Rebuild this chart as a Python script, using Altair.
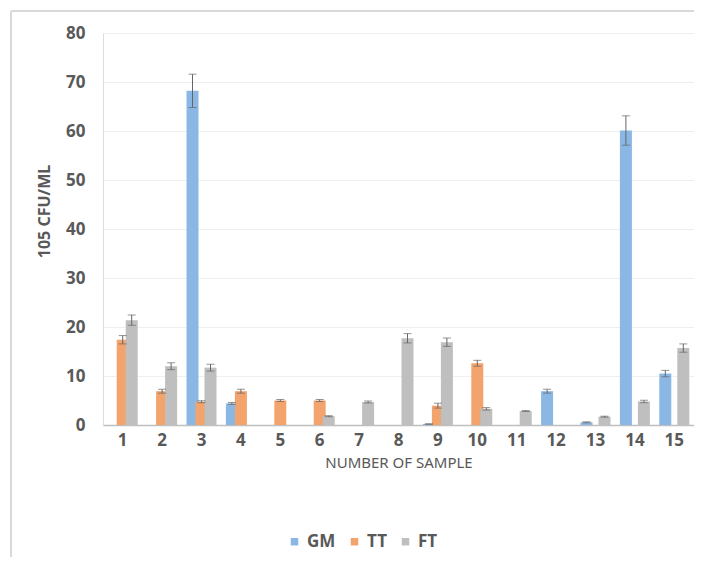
import altair as alt
import pandas as pd

samples = list(range(1, 16))
series = ["GM", "TT", "FT"]
gm = [None, None, 68.2, 4.4, None, None, None, None, 0.2, None, None, 6.9, 0.55, 60.1, 10.5]
gm_err = [None, None, 3.4, 0.2, None, None, None, None, 0.05, None, None, 0.4, 0.1, 3.0, 0.65]
tt = [17.4, 6.9, 4.75, 6.9, 5.0, 5.0, None, None, 3.95, 12.6, None, None, None, None, None]
tt_err = [0.85, 0.4, 0.2, 0.4, 0.2, 0.2, None, None, 0.5, 0.6, None, None, None, None, None]
ft = [21.4, 12.0, 11.7, None, None, 1.8, 4.7, 17.7, 16.9, 3.3, 2.85, None, 1.7, 4.8, 15.7]
ft_err = [1.05, 0.7, 0.7, None, None, 0.1, 0.2, 0.95, 0.85, 0.25, 0.1, None, 0.1, 0.25, 0.85]
colors = ["#8AB7E3", "#F2A46C", "#BFBFBF"]

rows = []
for name, vals, errs in [("GM", gm, gm_err), ("TT", tt, tt_err), ("FT", ft, ft_err)]:
    for s, v, e in zip(samples, vals, errs):
        if v is not None:
            rows.append({"sample": s, "series": name, "value": v,
                         "lo": v - (e or 0), "hi": v + (e or 0)})
df = pd.DataFrame(rows)

FONT = "Noto Sans"
GREY = "#595959"

x = alt.X("sample:O", scale=alt.Scale(domain=samples, paddingInner=0, paddingOuter=0),
          axis=alt.Axis(title="NUMBER OF SAMPLE", labelAngle=0, ticks=False,
                        domainColor="#BFBFBF", domainWidth=1.5,
                        labelFont=FONT, labelFontSize=17, labelFontWeight="bold",
                        labelColor=GREY, labelPadding=7,
                        titleFont=FONT, titleFontSize=15, titleFontWeight="normal",
                        titleColor=GREY, titlePadding=7))
xo = alt.XOffset("series:N", scale=alt.Scale(domain=series, range=[6.2, 33.2],
                                             paddingInner=0, paddingOuter=0))
yscale = alt.Scale(domain=[0, 80])

base = alt.Chart(df)

bars = base.mark_bar(size=12).encode(
    x=x, xOffset=xo,
    y=alt.Y("value:Q", scale=yscale,
            axis=alt.Axis(title="105 CFU/ML", values=list(range(0, 81, 10)),
                          domain=False, ticks=False, gridColor="#EFEFEF",
                          labelFont=FONT, labelFontSize=17, labelFontWeight="bold",
                          labelColor=GREY, labelPadding=18,
                          titleFont=FONT, titleFontSize=16, titleFontWeight="bold",
                          titleColor=GREY, titleX=-59, titleY=178,
                          titleBaseline="middle", titleAlign="center", titleAngle=-90)),
    color=alt.Color("series:N", scale=alt.Scale(domain=series, range=colors),
                    legend=alt.Legend(title=None, orient="none", direction="horizontal",
                                      legendX=183, legendY=500, symbolType="square",
                                      symbolSize=56, symbolStrokeWidth=0,
                                      labelFont=FONT, labelFontSize=17,
                                      labelFontWeight="bold", labelColor=GREY,
                                      columnPadding=10, labelOffset=4)),
)

stems = base.mark_rule(color="#666666", strokeWidth=1).encode(
    x=x, xOffset=xo, y=alt.Y("lo:Q", scale=yscale), y2="hi:Q")
caps_hi = base.mark_tick(color="#666666", thickness=1, size=8).encode(
    x=x, xOffset=xo, y=alt.Y("hi:Q", scale=yscale))
caps_lo = base.mark_tick(color="#666666", thickness=1, size=8).encode(
    x=x, xOffset=xo, y=alt.Y("lo:Q", scale=yscale))

frame_top = alt.Chart(df).mark_rule(color="#D9D9D9", strokeWidth=1).encode(
    x=alt.value(-92), x2=alt.value(591), y=alt.value(-22))
frame_left = alt.Chart(df).mark_rule(color="#D9D9D9", strokeWidth=1).encode(
    x=alt.value(-92), y=alt.value(-22), y2=alt.value(530))

chart = alt.layer(bars, stems, caps_hi, caps_lo, frame_top, frame_left).properties(
    width=591, height=392,
    autosize=alt.AutoSizeParams(type="none"),
    padding={"left": 95, "top": 25, "right": 0, "bottom": 132},
).configure_view(stroke=None).configure(background="white")

chart.save("out.html", embed_options={"renderer": "svg", "actions": False})
